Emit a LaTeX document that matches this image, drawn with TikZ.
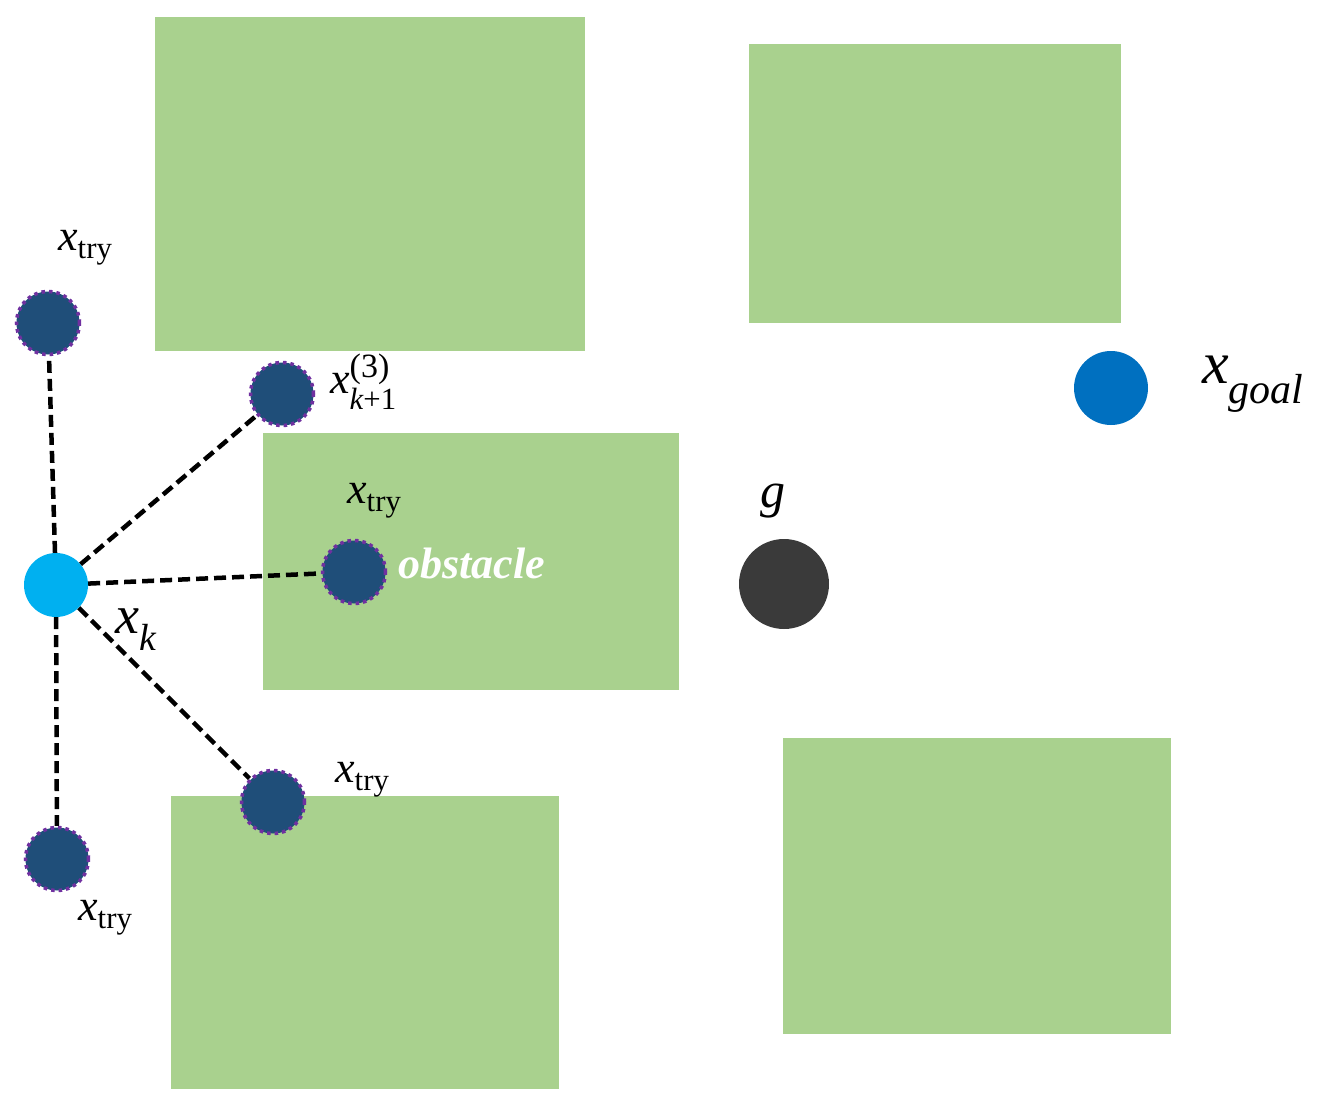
\documentclass[tikz,border=0pt]{standalone}
\usepackage{amsmath}
\usepackage{fontspec}
\setmainfont{Liberation Serif}
\definecolor{obsgreen}{HTML}{A9D18E}
\definecolor{tryblue}{HTML}{1F4E79}
\definecolor{trypurple}{HTML}{7030A0}
\definecolor{kcyan}{HTML}{00B0F0}
\definecolor{goalblue}{HTML}{0070C0}
\definecolor{gdark}{HTML}{3A3A3A}
\tikzset{
  obst/.style={fill=obsgreen, draw=none},
  trynode/.style={circle, fill=tryblue, draw=trypurple, line width=3.5pt, dash pattern=on 3.5pt off 4pt, minimum size=63pt, inner sep=0pt},
  knode/.style={circle, fill=kcyan, minimum size=64pt, inner sep=0pt},
  goalnode/.style={circle, fill=goalblue, minimum size=74pt, inner sep=0pt},
  gnode/.style={circle, fill=gdark, minimum size=90pt, inner sep=0pt},
  link/.style={black, line width=4.5pt, dash pattern=on 12pt off 6pt},
  lbl/.style={anchor=base west, inner sep=0pt, font=\fontsize{44}{50}\selectfont},
}
\begin{document}
\begin{tikzpicture}[x=1pt,y=-1pt]
\useasboundingbox (0,0) rectangle (1326,1113);
% obstacles
\fill[obst] (155,17) rectangle (585,351);
\fill[obst] (749,44) rectangle (1121,323);
\fill[obst] (263,433) rectangle (679,690);
\fill[obst] (171,796) rectangle (559,1089);
\fill[obst] (783,738) rectangle (1171,1034);
% nodes
\node[knode] (xk) at (56,585) {};
\node[trynode] (t1) at (48,323) {};
\node[trynode] (t2) at (282,394) {};
\node[trynode] (t3) at (354,572) {};
\node[trynode] (t4) at (273,802) {};
\node[trynode] (t5) at (57,859) {};
\node[goalnode] (goal) at (1111,388) {};
\node[gnode] (g) at (784,584) {};
% links
\draw[link] (xk) -- (t1);
\draw[link] (xk) -- (t2);
\draw[link] (xk) -- (t3);
\draw[link] (xk) -- (t4);
\draw[link] (xk) -- (t5);
% labels
\node[lbl] (l1) at (58,250) {\textit{x}$_{\text{try}}$};
\node[lbl] (l2) at (330,393) {\textit{x}$^{\raisebox{3pt}{\fontsize{34}{40}\selectfont(3)}}_{\textit{k}\text{+1}}$};
\node[lbl] (l3) at (347,503) {\textit{x}$_{\text{try}}$};
\node[lbl, text=white] (obs) at (398,578) {\textbf{\textit{obstacle}}};
\node[lbl] (l4) at (335,782) {\textit{x}$_{\text{try}}$};
\node[lbl] (l5) at (78,920) {\textit{x}$_{\text{try}}$};
\node[lbl, font=\fontsize{54}{60}\selectfont] (lk) at (115,633) {\textit{x}$_{\textit{k}}$};
\node[lbl, font=\fontsize{60}{66}\selectfont] (lg) at (1202,383) {\textit{x}$_{\textit{goal}}$};
\node[lbl, font=\fontsize{50}{56}\selectfont] (lgg) at (760,507) {\textit{g}};
\end{tikzpicture}
\end{document}
